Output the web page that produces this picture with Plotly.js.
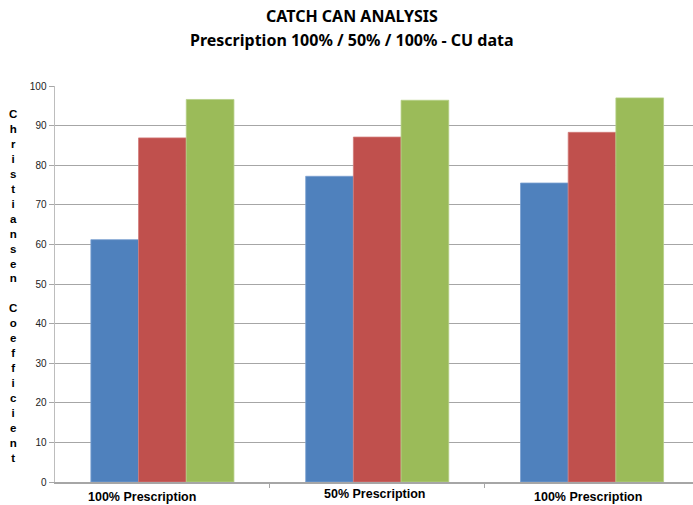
<!DOCTYPE html>
<html>
<head>
<meta charset="utf-8">
<script src="https://cdn.plot.ly/plotly-3.0.1.min.js"></script>
<style>html,body{margin:0;padding:0;background:#fff;}#chart{width:693px;height:505px;}</style>
</head>
<body>
<div id="chart"></div>
<script>
// Data
const categories = ["100% Prescription", "50% Prescription", "100% Prescription"];
const seriesA = [61.2, 77.2, 75.5];
const seriesB = [86.9, 87.1, 88.3];
const seriesC = [96.6, 96.4, 97.0];
const yTickVals = [0, 10, 20, 30, 40, 50, 60, 70, 80, 90, 100];
const yTitle = "Christiansen Coefficient";
const titleLine1 = "CATCH CAN ANALYSIS";
const titleLine2 = "Prescription 100% / 50% / 100% - CU data";

const xPos = categories.map((c, i) => i);
// label offsets (in category units) as placed in the reference
const labelOffsets = [-0.093, -0.014, -0.019];
const labelShifts = [0, 3, 0];

const colors = ["#4F81BD", "#C0504D", "#9BBB59"];
const edges = ["#7A9FD0", "#D27A78", "#B5CF86"];
const traces = [seriesA, seriesB, seriesC].map((vals, k) => ({
  type: "bar",
  x: xPos,
  y: vals,
  marker: {color: colors[k], line: {color: edges[k], width: 0.8}},
  hoverinfo: "y",
  showlegend: false
}));

const stacked = yTitle.split("").map(ch => ch === " " ? "&nbsp;" : ch).join("<br>");

const annotations = categories.map((c, i) => ({
  text: "<b>" + c + "</b>",
  x: xPos[i] + labelOffsets[i],
  xref: "x",
  y: 0,
  yref: "paper",
  yanchor: "top",
  xanchor: "center",
  yshift: -6 + labelShifts[i],
  showarrow: false,
  font: {family: "Liberation Sans, Arial, sans-serif", size: 12.5, color: "#000"}
}));
annotations.push({
  text: "<b>" + stacked + "</b>",
  xref: "paper", yref: "paper",
  x: -0.066, y: 0.494,
  xanchor: "center", yanchor: "middle",
  showarrow: false,
  align: "center",
  font: {family: "Liberation Sans, Arial, sans-serif", size: 11.5, color: "#000"}
});
[titleLine1, titleLine2].forEach((t, i) => annotations.push({
  text: "<b>" + t + "</b>",
  xref: "paper", yref: "paper",
  x: 0.4655, y: i === 0 ? 1.1768 : 1.1162,
  xanchor: "center", yanchor: "middle",
  showarrow: false,
  font: {family: "Liberation Sans Narrow, Noto Sans, sans-serif", size: 16, color: "#000"}
}));

const layout = {
  width: 693, height: 505,
  margin: {l: 55, r: 0, t: 86, b: 23, pad: 0},
  paper_bgcolor: "#fff", plot_bgcolor: "#fff",
  barmode: "group",
  bargap: 0.334,
  bargroupgap: 0,
  xaxis: {
    range: [-0.5, 2.47],
    tickvals: [0.5, 1.5],
    ticks: "outside", ticklen: 4, tickcolor: "#a6a6a6",
    showticklabels: false,
    showgrid: false, zeroline: false,
    showline: true, linecolor: "#a6a6a6", linewidth: 1.5
  },
  yaxis: {
    range: [0, 100],
    tickvals: yTickVals,
    ticks: "outside", ticklen: 5, tickcolor: "#a6a6a6",
    tickfont: {family: "Liberation Sans, Arial, sans-serif", size: 10, color: "#222"},
    showgrid: true, gridcolor: "#a6a6a6", gridwidth: 1,
    zeroline: false,
    showline: true, linecolor: "#bdbdbd", linewidth: 1.5
  },
  annotations: annotations
};

Plotly.newPlot("chart", traces, layout, {displayModeBar: false, staticPlot: true});
</script>
</body>
</html>
